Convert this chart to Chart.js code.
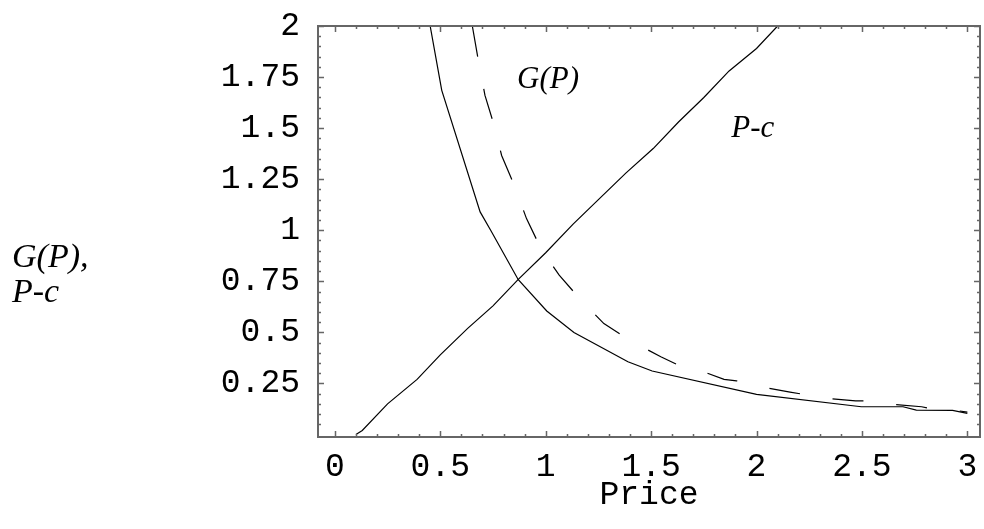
<!DOCTYPE html>
<html>
<head>
<meta charset="utf-8">
<script src="https://cdn.jsdelivr.net/npm/chart.js@4.4.1/dist/chart.umd.min.js"></script>
<style>
  html, body { margin: 0; padding: 0; background: #fff; }
  #wrap { width: 984px; height: 529px; }
</style>
</head>
<body>
<div id="wrap"><canvas id="chart"></canvas></div>
<script>
// --- DATA ---
const markupPrice = [0.1, 0.13, 0.25, 0.39, 0.5, 0.63, 0.75, 0.87, 1.0, 1.13, 1.25, 1.38, 1.51, 1.63, 1.75, 1.87, 2.0, 2.1];
const markupValue = [0, 0.02, 0.15, 0.27, 0.39, 0.52, 0.63, 0.76, 0.89, 1.03, 1.15, 1.28, 1.40, 1.53, 1.65, 1.78, 1.89, 2.0];

const gSolidPrice = [0.452, 0.507, 0.689, 0.739, 0.87, 1.005, 1.134, 1.39, 1.505, 2.0, 2.497, 2.695, 2.758, 2.93, 3.0];
const gSolidValue = [2.0, 1.685, 1.09, 1.0, 0.758, 0.605, 0.50, 0.356, 0.311, 0.197, 0.136, 0.136, 0.12, 0.118, 0.104];

const gDashPrice = [0.652, 0.68, 0.712, 0.752, 0.791, 0.851, 0.909, 0.98, 1.064, 1.166, 1.276, 1.407, 1.546, 1.636, 1.704, 1.846, 1.905, 2.003, 2.159, 2.26, 2.316, 2.47, 2.537, 2.628, 2.783, 2.837, 2.94, 3.0];
const gDashValue = [2.0, 1.835, 1.66, 1.525, 1.366, 1.22, 1.057, 0.905, 0.78, 0.66, 0.543, 0.456, 0.381, 0.337, 0.324, 0.27, 0.263, 0.237, 0.208, 0.19, 0.178, 0.165, 0.165, 0.15, 0.136, 0.125, 0.119, 0.11];

const xTickValues = [0, 0.5, 1, 1.5, 2, 2.5, 3];
const xTickLabels = ['0', '0.5', '1', '1.5', '2', '2.5', '3'];
const yTickValues = [0.25, 0.5, 0.75, 1, 1.25, 1.5, 1.75, 2];
const yTickLabels = ['0.25', '0.5', '0.75', '1', '1.25', '1.5', '1.75', '2'];

const toPoints = (xs, ys) => xs.map((x, i) => ({ x: x, y: ys[i] }));

const MONO = '"Liberation Mono", "DejaVu Sans Mono", monospace';
const SERIF = '"Liberation Serif", "DejaVu Serif", serif';
const FRAME = '#666';

// --- frame, inward ticks and curve labels (Mathematica-like look) ---
const framePlugin = {
  id: 'frame',
  afterDatasetsDraw(chart) {
    const { ctx, chartArea: a, scales } = chart;
    const xs = scales.x, ys = scales.y;
    ctx.save();
    ctx.strokeStyle = FRAME;
    ctx.lineWidth = 1.5;
    // ticks on x (every 0.1, major every 0.5)
    for (let i = 0; i <= 30; i++) {
      const v = i / 10;
      const px = Math.round(xs.getPixelForValue(v)) + 0.5;
      const len = (i % 5 === 0) ? 6 : 3;
      ctx.beginPath();
      ctx.moveTo(px, a.bottom); ctx.lineTo(px, a.bottom - len);
      ctx.moveTo(px, a.top); ctx.lineTo(px, a.top + len);
      ctx.stroke();
    }
    // ticks on y (every 0.05, major every 0.25)
    for (let i = 1; i <= 40; i++) {
      const v = i / 20;
      const py = Math.round(ys.getPixelForValue(v)) + 0.5;
      const len = (i % 5 === 0) ? 6 : 3;
      ctx.beginPath();
      ctx.moveTo(a.left, py); ctx.lineTo(a.left + len, py);
      ctx.moveTo(a.right, py); ctx.lineTo(a.right - len, py);
      ctx.stroke();
    }
    ctx.lineWidth = 2;
    ctx.strokeRect(a.left, a.top, a.right - a.left, a.bottom - a.top);

    // curve labels
    ctx.fillStyle = '#000';
    ctx.textBaseline = 'alphabetic';
    ctx.textAlign = 'left';
    ctx.font = 'italic 31px ' + SERIF;
    ctx.fillText('G(P)', xs.getPixelForValue(0.864), ys.getPixelForValue(1.696));
    ctx.fillText('P-c', xs.getPixelForValue(1.88), ys.getPixelForValue(1.456));

    // left axis label
    ctx.font = 'italic 34px ' + SERIF;
    ctx.fillText('G(P),', 12, 267);
    ctx.fillText('P-c', 12, 302);
    ctx.restore();
  }
};

const lineStyle = {
  borderColor: '#000',
  borderWidth: 1.2,
  pointRadius: 0,
  fill: false,
  tension: 0
};

new Chart(document.getElementById('chart'), {
  type: 'line',
  data: {
    datasets: [
      { ...lineStyle, label: 'P-c', data: toPoints(markupPrice, markupValue) },
      { ...lineStyle, label: 'G(P)', data: toPoints(gSolidPrice, gSolidValue) },
      { ...lineStyle, label: 'G(P) dashed', data: toPoints(gDashPrice, gDashValue), borderDash: [31, 33] }
    ]
  },
  options: {
    responsive: true,
    maintainAspectRatio: false,
    animation: false,
    layout: { padding: { top: 26, right: 4, left: 0, bottom: 0 } },
    plugins: { legend: { display: false }, tooltip: { enabled: false } },
    scales: {
      x: {
        type: 'linear',
        min: -0.08,
        max: 3.06,
        grid: { display: false, drawTicks: false },
        border: { display: false },
        afterBuildTicks: s => { s.ticks = xTickValues.map(v => ({ value: v })); },
        afterFit: s => { s.height = 92; s.paddingLeft = 0; s.paddingRight = 0; },
        ticks: {
          color: '#000',
          padding: 10,
          maxRotation: 0,
          autoSkip: false,
          font: { family: MONO, size: 33 },
          callback: v => xTickLabels[xTickValues.indexOf(v)]
        },
        title: {
          display: true,
          text: 'Price',
          color: '#000',
          font: { family: MONO, size: 33 },
          padding: { top: 0, bottom: 14 }
        }
      },
      y: {
        type: 'linear',
        min: -0.012,
        max: 2,
        grid: { display: false, drawTicks: false },
        border: { display: false },
        afterBuildTicks: s => { s.ticks = yTickValues.map(v => ({ value: v })); },
        afterFit: s => { s.width = 318; s.paddingTop = 0; s.paddingBottom = 0; },
        ticks: {
          color: '#000',
          padding: 18,
          autoSkip: false,
          font: { family: MONO, size: 33 },
          callback: v => yTickLabels[yTickValues.indexOf(v)]
        }
      }
    }
  },
  plugins: [framePlugin]
});
</script>
</body>
</html>
